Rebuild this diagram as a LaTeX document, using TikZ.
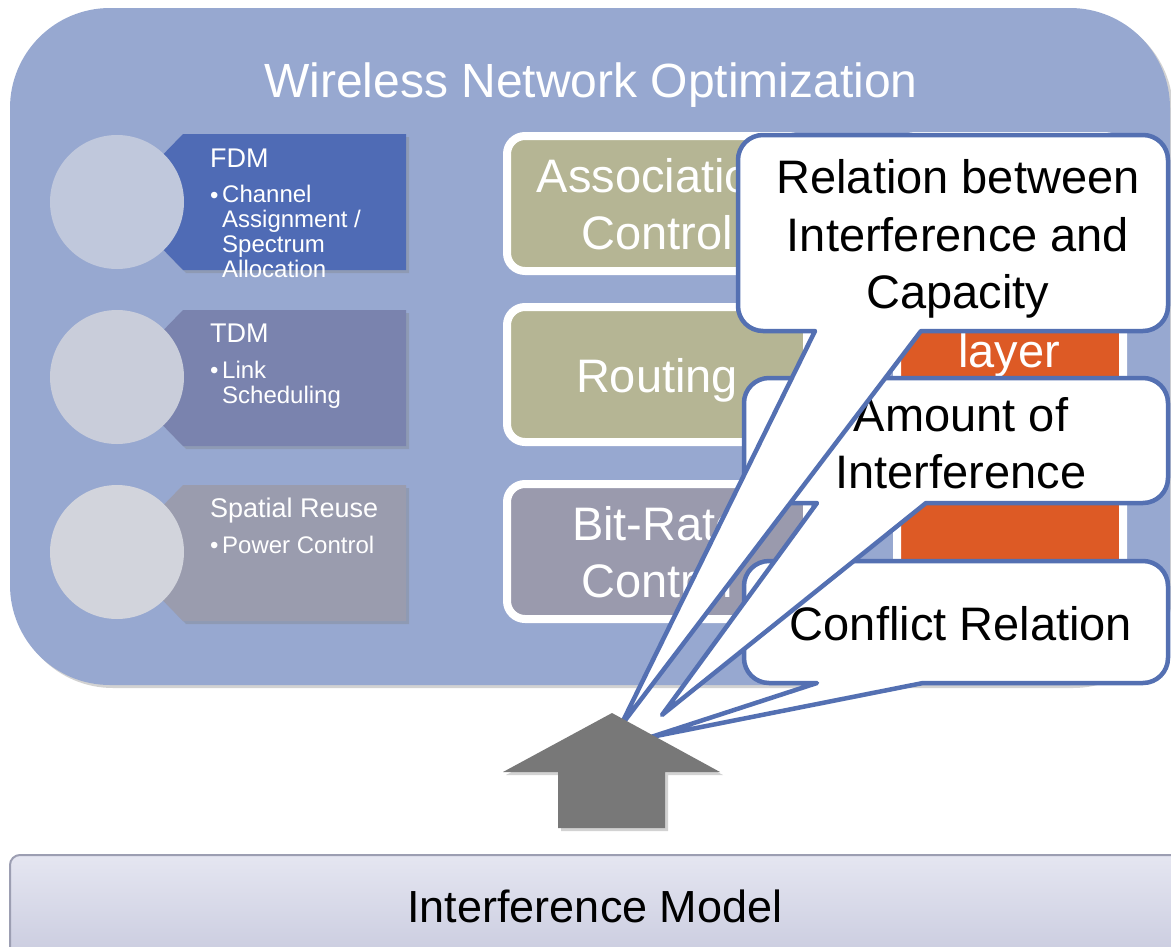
\documentclass[tikz,border=0pt]{standalone}
\usepackage{fontspec}
\setmainfont{Liberation Sans}
\usetikzlibrary{shadows}
\definecolor{panel}{RGB}{151,168,208}
\definecolor{fdmblue}{RGB}{79,107,181}
\definecolor{tdmslate}{RGB}{122,131,174}
\definecolor{srgray}{RGB}{154,156,174}
\definecolor{disca}{RGB}{192,200,220}
\definecolor{discb}{RGB}{201,205,218}
\definecolor{discc}{RGB}{210,212,220}
\definecolor{khaki}{RGB}{181,181,148}
\definecolor{bitgray}{RGB}{154,154,173}
\definecolor{rust}{RGB}{221,90,37}
\definecolor{callblue}{RGB}{84,112,178}
\definecolor{arrowgray}{RGB}{120,120,120}
\definecolor{barhi}{RGB}{229,230,241}
\definecolor{barlo}{RGB}{200,202,222}
\definecolor{barline}{RGB}{156,158,178}
\begin{document}
\begin{tikzpicture}[x=1pt,y=-1pt, line join=round, line cap=round,
	soft/.style={drop shadow={shadow xshift=3pt,shadow yshift=-3pt,opacity=.35}},
	block/.style={draw=white,line width=8pt,rounded corners=18pt},
	bubble/.style={draw=callblue,fill=white,line width=4.5pt},
	head/.style={inner sep=0pt,text=white,font=\fontsize{27}{28}\selectfont},
	item/.style={inner sep=0pt,text=white,font=\fontsize{24}{24.7}\selectfont},
	big/.style={inner sep=0pt,align=center,font=\fontsize{47}{57.5}\selectfont}]
	\def\r{25} % corner of the callouts
	\def\bubble#1#2#3#4#5#6#7{% left, top, right, bottom, base left, base right, tip
		\draw[bubble] (#6,#4) -- ({#3-\r},#4) arc[start angle=90,end angle=0,radius=\r]
			-- (#3,{#2+\r}) arc[start angle=0,end angle=-90,radius=\r]
			-- ({#1+\r},#2) arc[start angle=-90,end angle=-180,radius=\r]
			-- (#1,{#4-\r}) arc[start angle=180,end angle=90,radius=\r]
			-- (#5,#4) -- (#7) -- cycle;}
	\useasboundingbox (0,0) rectangle (1171,946);
	\clip (0,0) rectangle (1171,946);
	\fill[white] (0,0) rectangle (1171,946);
	% outer panel
	\fill[panel,soft,rounded corners=100pt] (10,8) rectangle (1170,685);
	\node (title) [inner sep=0pt,anchor=base,text=white,font=\fontsize{48}{50}\selectfont] at (591,97) {Wireless Network Optimization};
	% left column
	\foreach \y/\c in {134/fdmblue,310/tdmslate,485/srgray}
		\fill[\c,soft] (183,\y) -- (406,\y) -- (406,\y+136) -- (183,\y+136) -- (117,\y+68) -- cycle;
	\fill[disca] (117,202) circle[radius=67];
	\fill[discb] (117,377) circle[radius=67];
	\fill[discc] (117,552) circle[radius=67];
	\node (fdm) [head,anchor=base west] at (210,167) {FDM};
	\node (fdmdot) [item,anchor=base west] at (210,203) {\textbullet};
	\node (fdmtxt) [item,anchor=base west,align=left] at (222,277) {Channel\\Assignment /\\Spectrum\\Allocation};
	\node (tdm) [head,anchor=base west] at (210,342) {TDM};
	\node (tdmdot) [item,anchor=base west] at (210,378) {\textbullet};
	\node (tdmtxt) [item,anchor=base west,align=left] at (222,403) {Link\\Scheduling};
	\node (sr) [head,anchor=base west] at (210,517) {Spatial Reuse};
	\node (srdot) [item,anchor=base west] at (210,553) {\textbullet};
	\node (srtxt) [item,anchor=base west] at (222,553) {Power Control};
	% middle and right columns
	\foreach \y/\c in {132/khaki,303/khaki,480/bitgray}
		\filldraw[block,fill=\c] (507,\y+4) rectangle (807,\y+139);
	\foreach \y in {132,303,480}
		\filldraw[block,fill=rust] (897,\y+4) rectangle (1123,\y+139);
	\node (assoc) [big,text=white] at (657,204) {Association\\Control};
	\node (routing) [big,text=white,anchor=base] at (657,392) {Routing};
	\node (bitrate) [big,text=white] at (657,552) {Bit-Rate\\Control};
	\node (layer) [big,text=white,anchor=base] at (1009,367) {layer};
	% callouts
	\coordinate (tipr) at (620,727);
	\coordinate (tipa) at (662,715);
	\coordinate (tipc) at (651,737);
	\bubble{744}{561}{1168}{683}{817}{923}{tipc}
	\node (conflict) [big,anchor=base] at (961,640) {Conflict Relation};
	\bubble{744}{378}{1168}{503}{817}{926}{tipa}
	\node (amount) [big] at (961,443) {Amount of\\Interference};
	\bubble{738}{135}{1168}{331}{815}{921}{tipr}
	\node (relation) [big] at (958,239) {Relation between\\Interference and\\Capacity};
	% arrow and model
	\fill[arrowgray,soft] (612,713) -- (720,772) -- (665,772) -- (665,828) -- (558,828) -- (558,772) -- (503,772) -- cycle;
	\shade[top color=barhi,bottom color=barlo,draw=barline,line width=2pt,rounded corners=10pt] (10,855) rectangle (1185,965);
	\node (model) [inner sep=0pt,anchor=base,font=\fontsize{45}{50}\selectfont] at (595,922) {Interference Model};
\end{tikzpicture}
\end{document}
